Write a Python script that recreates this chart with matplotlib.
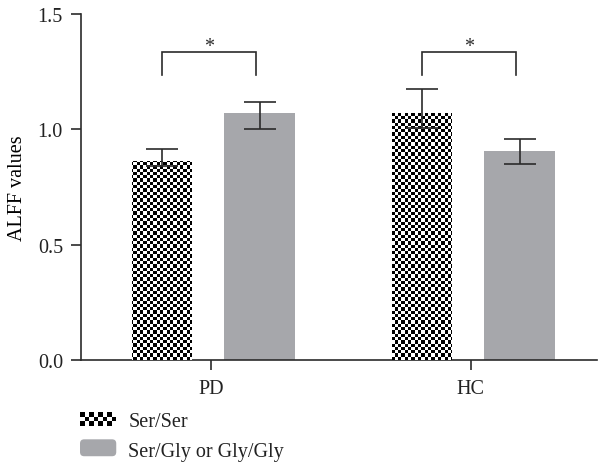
import numpy as np
import matplotlib
matplotlib.use("Agg")
import matplotlib.pyplot as plt
from matplotlib.patches import Rectangle, FancyBboxPatch
from matplotlib.legend_handler import HandlerBase

plt.rcParams['font.family'] = ['Liberation Serif', 'DejaVu Serif']
FS = 14.5
plt.rcParams['font.size'] = FS

# ---- data ----
categories = ["PD", "HC"]
series_names = ["Ser/Ser", "Ser/Gly or Gly/Gly"]
serser_mean = [0.861, 1.070]
serser_upper = [0.914, 1.175]
serser_lower = [0.839, 1.004]
glygly_mean = [1.070, 0.907]
glygly_upper = [1.119, 0.960]
glygly_lower = [1.001, 0.848]
yticks = [0.0, 0.5, 1.0, 1.5]
ytick_labels = ["0.0", "0.5", "1.0", "1.5"]
sig_labels = ["*", "*"]

GRAY = "#a6a7ab"
DARK = "#2b2b2b"

fig = plt.figure(figsize=(5.98, 4.64), dpi=100)
ax = fig.add_axes([81/598, 103/464, 516/598, 346/464])
xlim = (-0.5, 1.485)
ax.set_xlim(*xlim)
ax.set_ylim(0, 1.5)

x = np.arange(len(categories))
off = 0.187
b1 = ax.bar(x - off, serser_mean, width=0.23, color="white", edgecolor="none", zorder=2)
b2 = ax.bar(x + off, glygly_mean, width=0.27, color=GRAY, edgecolor="none", zorder=2)

# checkerboard texture clipped to the Ser/Ser bars
ncx, ncy = 156, 105
chk = (np.add.outer(np.arange(ncy), np.arange(ncx)) % 2).astype(float)
for p in b1.patches:
    im = ax.imshow(chk, cmap="gray", vmin=0, vmax=1, extent=(xlim[0], xlim[1], 0, 1.5),
                   interpolation="nearest", aspect="auto", origin="lower", zorder=3)
    im.set_clip_path(p)
ax.set_xlim(*xlim)
ax.set_ylim(0, 1.5)

def yerr(mean, up, lo):
    m = np.array(mean)
    return [m - np.array(lo), np.array(up) - m]

ax.errorbar(x - off, serser_mean, yerr=yerr(serser_mean, serser_upper, serser_lower),
            fmt="none", ecolor=DARK, elinewidth=1.2, capsize=11.5, capthick=1.2, zorder=4)
ax.errorbar(x + off, glygly_mean, yerr=yerr(glygly_mean, glygly_upper, glygly_lower),
            fmt="none", ecolor=DARK, elinewidth=1.2, capsize=11.5, capthick=1.2, zorder=4)

# significance brackets
for i, s in enumerate(sig_labels):
    xl, xr = x[i] - 0.188, x[i] + 0.175
    ax.plot([xl, xl, xr, xr], [1.237, 1.335, 1.335, 1.237], color=DARK, lw=1.2,
            solid_joinstyle="miter", clip_on=False)
    ax.text((xl + xr) / 2, 1.36, s, ha="center", va="center", fontsize=FS, color=DARK)

ax.set_yticks(yticks)
ax.set_yticklabels(ytick_labels)
ax.set_xticks(x)
ax.set_xticklabels(categories)
ax.set_ylabel("ALFF values", labelpad=8)
for sp in ["top", "right"]:
    ax.spines[sp].set_visible(False)
for sp in ["left", "bottom"]:
    ax.spines[sp].set_linewidth(1.2)
    ax.spines[sp].set_color(DARK)
ax.tick_params(axis="both", colors=DARK, labelcolor="#222222", width=1.2, length=7, pad=6)
ax.tick_params(axis="x", pad=7)


class CheckerHandler(HandlerBase):
    def create_artists(self, legend, orig_handle, xdescent, ydescent, width, height,
                       fontsize, trans):
        arts = [Rectangle((-xdescent, -ydescent), width, height, facecolor="white",
                          edgecolor="none", transform=trans)]
        nx, ny = 8, 3
        cw, ch = width / nx, height / ny
        for i in range(nx):
            for j in range(ny):
                if (i + j) % 2 == 0:
                    arts.append(Rectangle((-xdescent + i * cw, -ydescent + j * ch), cw, ch,
                                          facecolor="black", edgecolor="none", transform=trans))
        return arts


class RoundHandler(HandlerBase):
    def create_artists(self, legend, orig_handle, xdescent, ydescent, width, height,
                       fontsize, trans):
        p = FancyBboxPatch((-xdescent, -ydescent), width, height * 1.2,
                           boxstyle="round,pad=0,rounding_size=3", facecolor=GRAY,
                           edgecolor="none", transform=trans)
        return [p]


h1 = Rectangle((0, 0), 1, 1)
h2 = Rectangle((0, 0), 1, 1, facecolor=GRAY)
fig.legend([h1, h2], series_names, loc="upper left", bbox_to_anchor=(80/598, 0.11),
           frameon=False, handlelength=1.8, handleheight=0.7, handletextpad=0.6,
           labelspacing=0.55, borderpad=0, borderaxespad=0, fontsize=FS,
           handler_map={h1: CheckerHandler(), h2: RoundHandler()}, labelcolor="#222222")

fig.savefig("out.png", dpi=100)
